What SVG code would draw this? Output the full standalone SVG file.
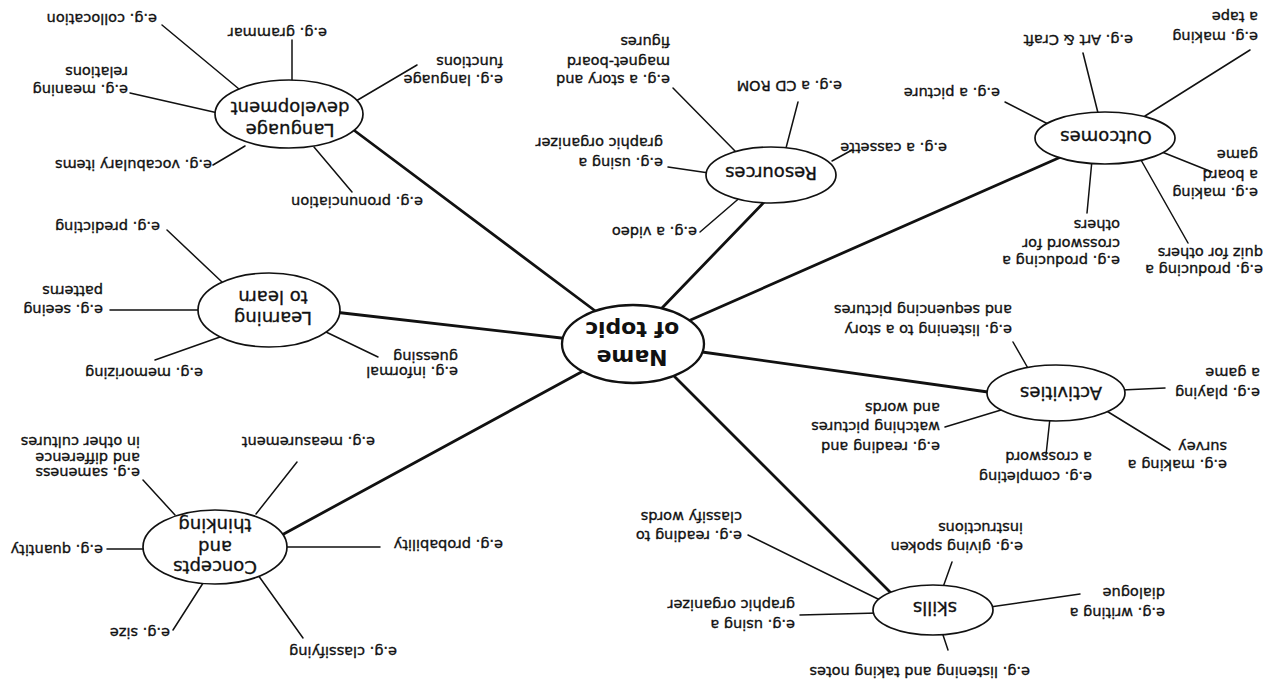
<svg xmlns="http://www.w3.org/2000/svg" width="1279" height="686" viewBox="0 0 1279 686">
  <style>
    .hub { stroke: #111; stroke-width: 2.8; stroke-linecap: round; fill: none; }
    .spoke { stroke: #111; stroke-width: 1.5; stroke-linecap: round; fill: none; }
    .node { fill: #fff; stroke: #111; stroke-width: 1.7; }
    .centre { fill: #fff; stroke: #111; stroke-width: 2.3; }
    .lbl { font-family: "DejaVu Sans", "Liberation Sans", sans-serif; font-size: 14.5px; fill: #111; stroke: #111; stroke-width: 0.35; }
    .ttl { font-family: "DejaVu Sans", "Liberation Sans", sans-serif; font-size: 18px; fill: #111; stroke: #111; stroke-width: 0.35; text-anchor: middle; }
    .main { font-family: "DejaVu Sans", "Liberation Sans", sans-serif; font-size: 22px; font-weight: bold; fill: #111; text-anchor: middle; }
  </style>
  <rect width="1279" height="686" fill="#fff"/>
  <!-- the whole mind map is printed turned half a turn -->
  <g transform="rotate(180 639.5 343)">
    <g id="connectors">
      <!-- hub to topic branches -->
      <line class="hub" x1="681" y1="373" x2="924" y2="555"/>
      <line class="hub" x1="617" y1="378" x2="509" y2="490"/>
      <line class="hub" x1="593" y1="364" x2="216" y2="530"/>
      <line class="hub" x1="584" y1="335" x2="284" y2="293"/>
      <line class="hub" x1="607" y1="312" x2="383" y2="88"/>
      <line class="hub" x1="694" y1="316" x2="999" y2="150"/>
      <line class="hub" x1="709" y1="347" x2="945" y2="374"/>
      <!-- Language development -->
      <line class="spoke" x1="1117" y1="661" x2="1034" y2="592"/>
      <line class="spoke" x1="987" y1="646" x2="987" y2="604"/>
      <line class="spoke" x1="862" y1="621" x2="923" y2="585"/>
      <line class="spoke" x1="1149" y1="593" x2="1061" y2="573"/>
      <line class="spoke" x1="1066" y1="521" x2="1034" y2="540"/>
      <line class="spoke" x1="927" y1="494" x2="965" y2="539"/>
      <!-- Learning to learn -->
      <line class="spoke" x1="1112" y1="456" x2="1057" y2="404"/>
      <line class="spoke" x1="1169" y1="376" x2="1079" y2="376"/>
      <line class="spoke" x1="1124" y1="326" x2="1059" y2="349"/>
      <line class="spoke" x1="901" y1="329" x2="953" y2="354"/>
      <!-- Concepts and thinking -->
      <line class="spoke" x1="982" y1="224" x2="1023" y2="172"/>
      <line class="spoke" x1="1136" y1="206" x2="1104" y2="171"/>
      <line class="spoke" x1="1172" y1="137" x2="1133" y2="137"/>
      <line class="spoke" x1="1106" y1="56" x2="1074" y2="106"/>
      <line class="spoke" x1="976" y1="48" x2="1021" y2="111"/>
      <line class="spoke" x1="899" y1="139" x2="995" y2="139"/>
      <!-- Resources -->
      <line class="spoke" x1="481" y1="584" x2="493" y2="538"/>
      <line class="spoke" x1="606" y1="598" x2="544" y2="535"/>
      <line class="spoke" x1="611" y1="519" x2="570" y2="513"/>
      <line class="spoke" x1="579" y1="454" x2="536" y2="491"/>
      <line class="spoke" x1="427" y1="536" x2="447" y2="525"/>
      <!-- Outcomes -->
      <line class="spoke" x1="274" y1="584" x2="231" y2="562"/>
      <line class="spoke" x1="196" y1="633" x2="181" y2="573"/>
      <line class="spoke" x1="29" y1="636" x2="134" y2="570"/>
      <line class="spoke" x1="67" y1="514" x2="117" y2="534"/>
      <line class="spoke" x1="91" y1="443" x2="138" y2="526"/>
      <line class="spoke" x1="192" y1="473" x2="187" y2="526"/>
      <!-- Activities -->
      <line class="spoke" x1="266" y1="344" x2="250" y2="316"/>
      <line class="spoke" x1="114" y1="298" x2="157" y2="296"/>
      <line class="spoke" x1="334" y1="259" x2="278" y2="276"/>
      <line class="spoke" x1="109" y1="236" x2="174" y2="276"/>
      <line class="spoke" x1="233" y1="231" x2="229" y2="268"/>
      <!-- skills -->
      <line class="spoke" x1="327" y1="124" x2="337" y2="96"/>
      <line class="spoke" x1="199" y1="92" x2="289" y2="79"/>
      <line class="spoke" x1="331" y1="36" x2="337" y2="54"/>
      <line class="spoke" x1="531" y1="151" x2="399" y2="86"/>
      <line class="spoke" x1="479" y1="71" x2="401" y2="73"/>
    </g>

    <g id="name-of-topic">
      <ellipse class="centre" cx="646" cy="342" rx="71" ry="39"/>
      <text class="main" x="647" y="336">Name</text>
      <text class="main" x="647" y="364">of topic</text>
    </g>

    <g id="language-development">
      <ellipse class="node" cx="990" cy="572" rx="74" ry="34"/>
      <text class="ttl" x="989" y="562">Language</text>
      <text class="ttl" x="989" y="584">development</text>
      <text class="lbl" x="1122" y="672">e.g. collocation</text>
      <text class="lbl" x="952" y="658">e.g. grammar</text>
      <text class="lbl" x="776" y="611">e.g. language</text>
      <text class="lbl" x="776" y="629">functions</text>
      <text class="lbl" x="1151" y="601">e.g. meaning</text>
      <text class="lbl" x="1151" y="619">relations</text>
      <text class="lbl" x="1067" y="526">e.g. vocabulary items</text>
      <text class="lbl" x="856" y="489">e.g. pronunciation</text>
    </g>

    <g id="learning-to-learn">
      <ellipse class="node" cx="1010" cy="376" rx="71" ry="37"/>
      <text class="ttl" x="1006" y="374">Learning</text>
      <text class="ttl" x="1006" y="395">to learn</text>
      <text class="lbl" x="1119" y="464">e.g. predicting</text>
      <text class="lbl" x="1176" y="381">e.g. seeing</text>
      <text class="lbl" x="1176" y="400">patterns</text>
      <text class="lbl" x="1076" y="318">e.g. memorizing</text>
      <text class="lbl" x="821" y="319">e.g. informal</text>
      <text class="lbl" x="821" y="334">guessing</text>
    </g>

    <g id="concepts-and-thinking">
      <ellipse class="node" cx="1064" cy="139" rx="72" ry="37"/>
      <text class="ttl" x="1064" y="125">Concepts</text>
      <text class="ttl" x="1064" y="145">and</text>
      <text class="ttl" x="1064" y="167">thinking</text>
      <text class="lbl" x="904" y="249">e.g. measurement</text>
      <text class="lbl" x="1139" y="218">e.g. sameness</text>
      <text class="lbl" x="1139" y="233">and difference</text>
      <text class="lbl" x="1139" y="249">in other cultures</text>
      <text class="lbl" x="1176" y="141">e.g. quantity</text>
      <text class="lbl" x="1109" y="58">e.g. size</text>
      <text class="lbl" x="882" y="39">e.g. classifying</text>
      <text class="lbl" x="776" y="146">e.g. probability</text>
    </g>

    <g id="resources">
      <ellipse class="node" cx="508" cy="511" rx="65" ry="28"/>
      <text class="ttl" x="508" y="519">Resources</text>
      <text class="lbl" x="437" y="605">e.g. a CD ROM</text>
      <text class="lbl" x="609" y="611">e.g. a story and</text>
      <text class="lbl" x="609" y="629">magnet-board</text>
      <text class="lbl" x="609" y="649">figures</text>
      <text class="lbl" x="616" y="528">e.g. using a</text>
      <text class="lbl" x="616" y="548">graphic organizer</text>
      <text class="lbl" x="582" y="459">e.g. a video</text>
      <text class="lbl" x="332" y="543">e.g. a cassette</text>
    </g>

    <g id="outcomes">
      <ellipse class="node" cx="174" cy="548" rx="70" ry="26"/>
      <text class="ttl" x="173" y="555">Outcomes</text>
      <text class="lbl" x="279" y="598">e.g. a picture</text>
      <text class="lbl" x="146" y="651">e.g. Art &amp; Craft</text>
      <text class="lbl" x="21" y="654">e.g. making</text>
      <text class="lbl" x="21" y="674">a tape</text>
      <text class="lbl" x="21" y="498">e.g. making</text>
      <text class="lbl" x="21" y="516">a board</text>
      <text class="lbl" x="21" y="536">game</text>
      <text class="lbl" x="16" y="421">e.g. producing a</text>
      <text class="lbl" x="16" y="438">quiz for others</text>
      <text class="lbl" x="159" y="430">e.g. producing a</text>
      <text class="lbl" x="159" y="447">crossword for</text>
      <text class="lbl" x="159" y="466">others</text>
    </g>

    <g id="activities">
      <ellipse class="node" cx="223" cy="293" rx="69" ry="28"/>
      <text class="ttl" x="218" y="299">Activities</text>
      <text class="lbl" x="267" y="361">e.g. listening to a story</text>
      <text class="lbl" x="267" y="381">and sequencing pictures</text>
      <text class="lbl" x="19" y="298">e.g. playing</text>
      <text class="lbl" x="19" y="318">a game</text>
      <text class="lbl" x="339" y="244">e.g. reading and</text>
      <text class="lbl" x="339" y="264">watching pictures</text>
      <text class="lbl" x="339" y="283">and words</text>
      <text class="lbl" x="52" y="226">e.g. making a</text>
      <text class="lbl" x="52" y="244">survey</text>
      <text class="lbl" x="187" y="214">e.g. completing</text>
      <text class="lbl" x="187" y="234">a crossword</text>
    </g>

    <g id="skills">
      <ellipse class="node" cx="346" cy="76" rx="60" ry="25"/>
      <text class="ttl" x="344" y="84">skills</text>
      <text class="lbl" x="256" y="144">e.g. giving spoken</text>
      <text class="lbl" x="256" y="163">instructions</text>
      <text class="lbl" x="114" y="78">e.g. writing a</text>
      <text class="lbl" x="114" y="98">dialogue</text>
      <text class="lbl" x="249" y="19">e.g. listening and taking notes</text>
      <text class="lbl" x="537" y="155">e.g. reading to</text>
      <text class="lbl" x="537" y="174">classify words</text>
      <text class="lbl" x="484" y="66">e.g. using a</text>
      <text class="lbl" x="484" y="86">graphic organizer</text>
    </g>
  </g>
</svg>
